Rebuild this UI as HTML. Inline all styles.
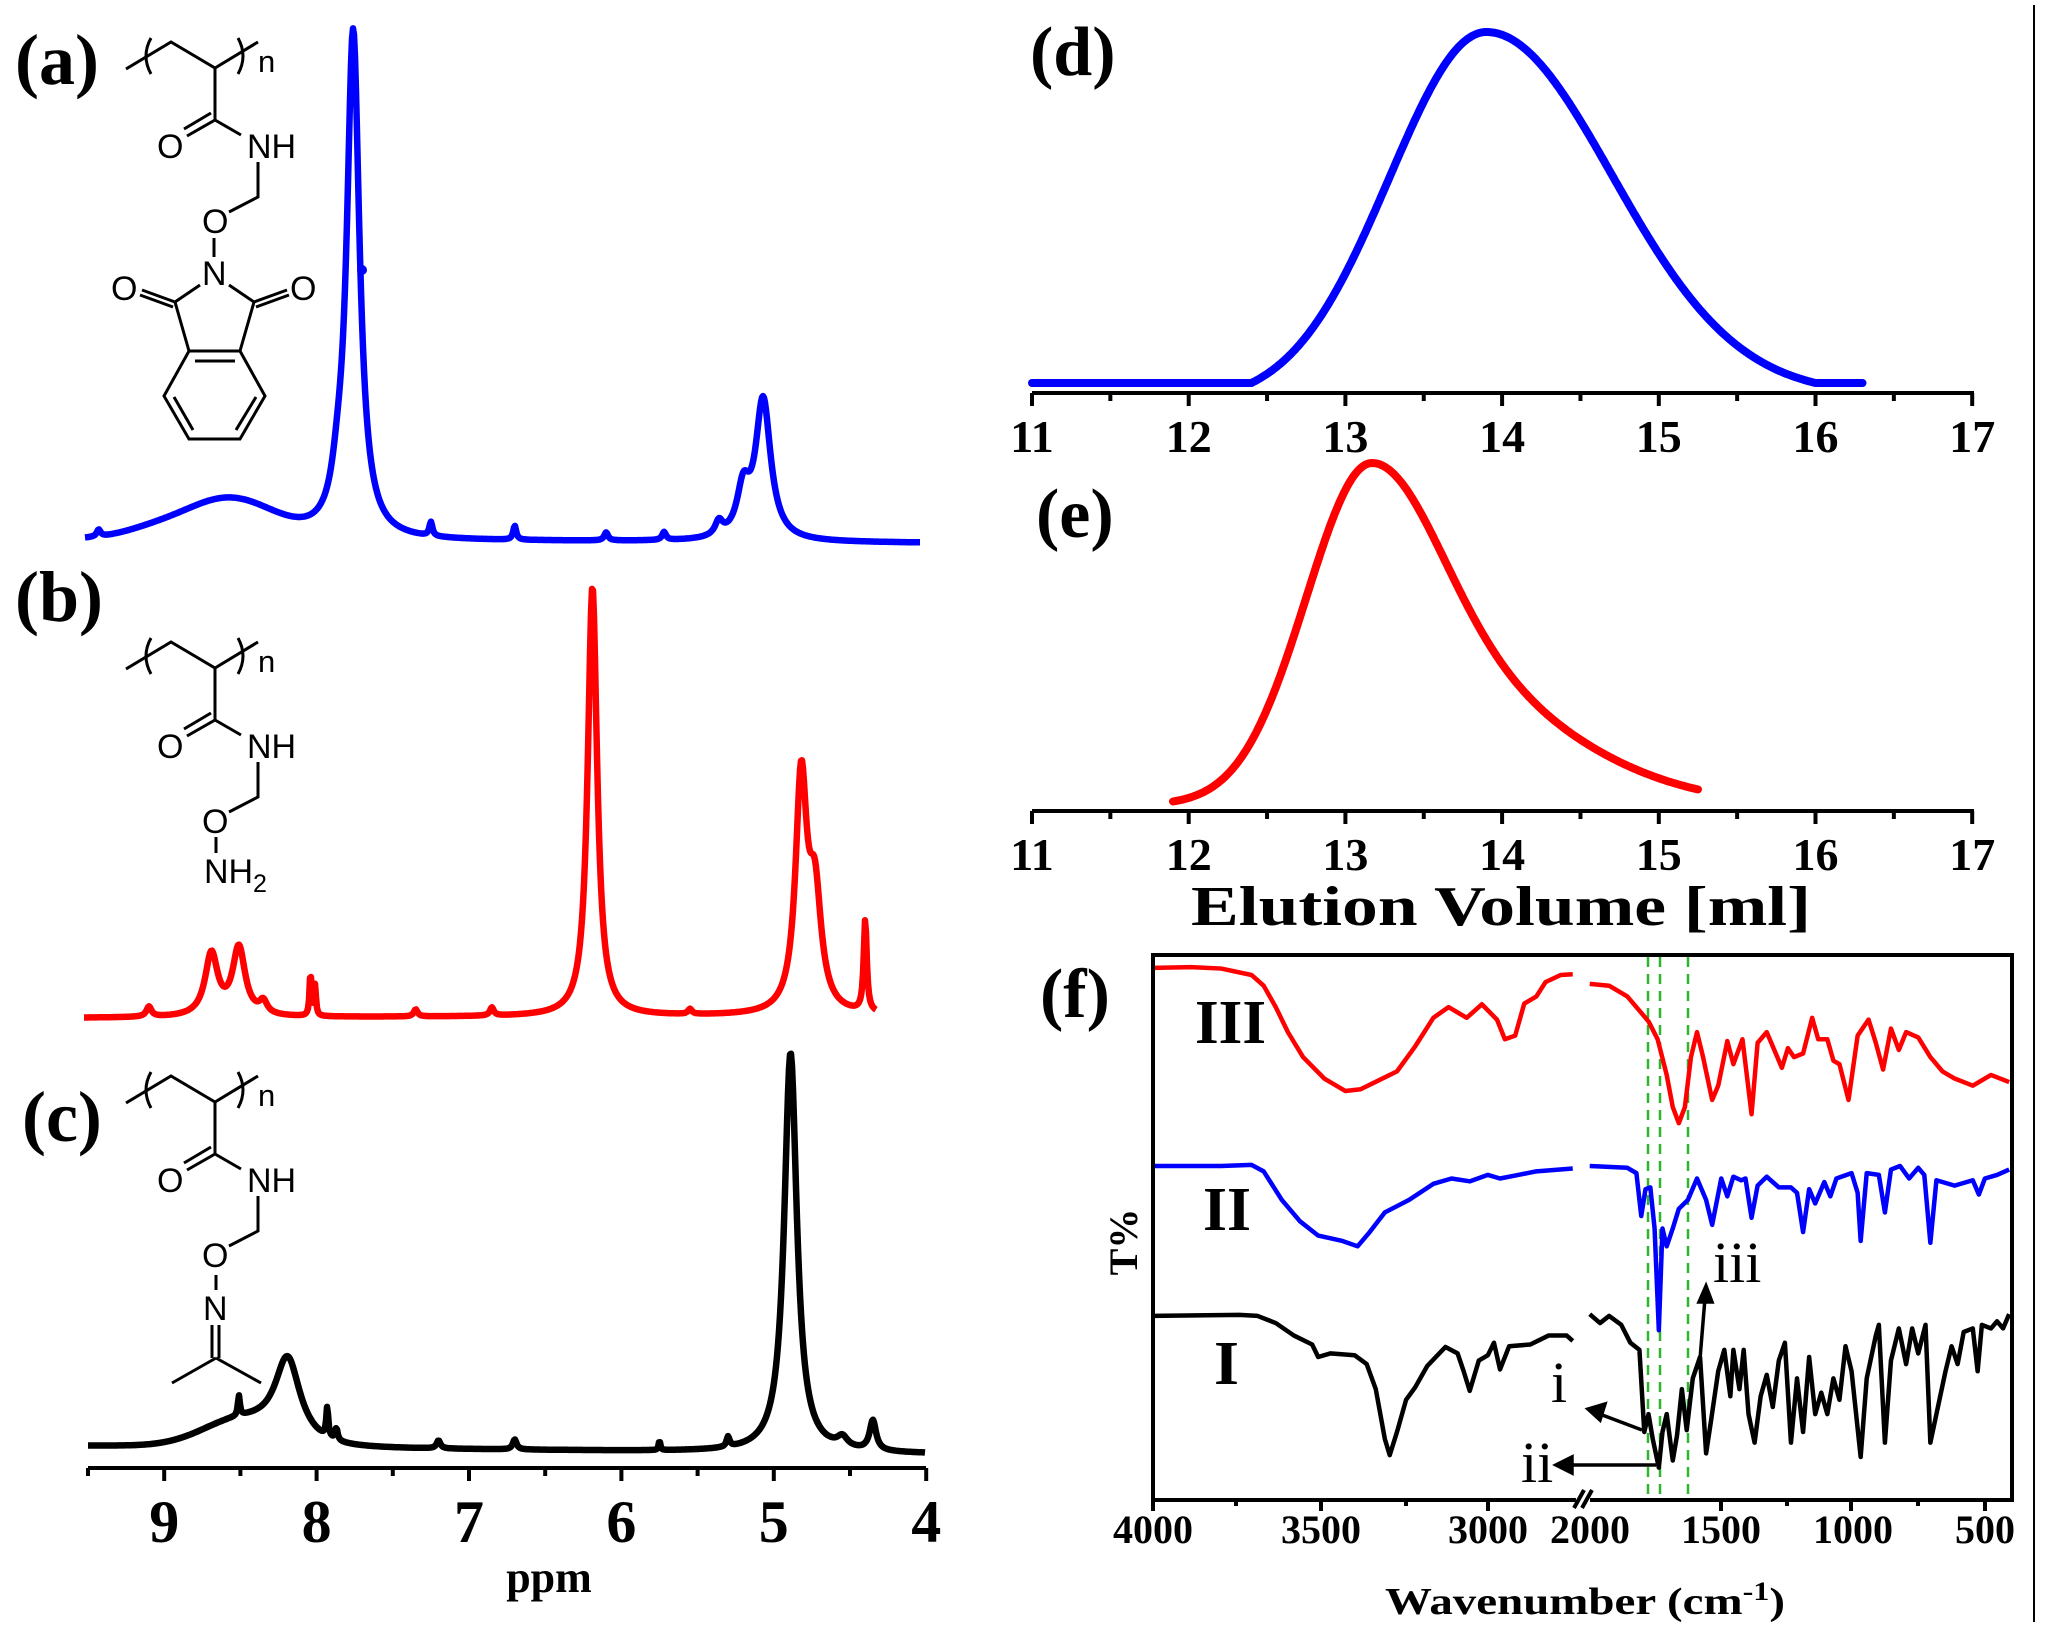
<!DOCTYPE html>
<html><head><meta charset="utf-8"><style>
html,body{margin:0;padding:0;background:#fff;}
svg{display:block;}
.ser{font-family:"Liberation Serif",serif;font-weight:bold;}
.san{font-family:"Liberation Sans",sans-serif;}
</style></head><body>
<svg id="s" width="2051" height="1642" viewBox="0 0 2051 1642" xmlns="http://www.w3.org/2000/svg">
<rect width="2051" height="1642" fill="#fff"/>
<g class="ser" font-size="72" fill="#000">
<text x="15" y="84">(a)</text>
<text x="15" y="621">(b)</text>
<text x="22" y="1141">(c)</text>
<text x="1030" y="75" font-size="70">(d)</text>
<text x="1036" y="537" font-size="70">(e)</text>
<text x="1040" y="1017" font-size="70">(f)</text>
</g>

<defs>
<g id="top" stroke="#000" stroke-width="3" fill="none">
<polyline points="126,69 171,42 215,68 258,42"/>
<path d="M151,38 Q141,56 151,74"/>
<path d="M238,38 Q248,56 238,74"/>
<line x1="215" y1="68" x2="215" y2="120"/>
<line x1="215" y1="120" x2="187" y2="136"/>
<line x1="211" y1="113" x2="184" y2="129"/>
<line x1="215" y1="120" x2="241" y2="135"/>
<polyline points="258,162 258,197 229,212"/>
</g>
<g id="toptext" class="san" font-size="34" fill="#000">
<text x="258" y="72" font-size="31">n</text>
<text x="157" y="158">O</text>
<text x="247" y="158">NH</text>
<text x="202" y="233">O</text>
</g>
</defs>
<use href="#top"/><use href="#toptext"/>
<g stroke="#000" stroke-width="3" fill="none">
<line x1="214" y1="238" x2="214" y2="257"/>
<line x1="200" y1="285" x2="175" y2="302"/>
<line x1="229" y1="285" x2="254" y2="302"/>
<line x1="175" y1="302" x2="142" y2="290"/><line x1="173" y1="307" x2="140" y2="295"/>
<line x1="254" y1="302" x2="287" y2="290"/><line x1="256" y1="307" x2="289" y2="295"/>
<line x1="175" y1="302" x2="189" y2="351"/><line x1="254" y1="302" x2="240" y2="351"/>
<polyline points="240,351 189,351 164,396 189,439 240,439 265,396 240,351"/>
<line x1="195" y1="361" x2="235" y2="361"/>
<line x1="174" y1="397" x2="193" y2="430"/><line x1="256" y1="397" x2="236" y2="430"/>
</g>
<g class="san" font-size="34"><text x="202" y="285">N</text><text x="111" y="300">O</text><text x="290" y="300">O</text></g>

<g transform="translate(0,600)"><use href="#top"/><use href="#toptext"/>
<line x1="216" y1="237" x2="216" y2="253" stroke="#000" stroke-width="3"/>
<text class="san" font-size="34" x="204" y="283">NH</text><text class="san" font-size="25" x="253" y="292">2</text></g>

<g transform="translate(0,1034)"><use href="#top"/><use href="#toptext"/>
<g stroke="#000" stroke-width="3">
<line x1="216" y1="241" x2="216" y2="256"/>
<line x1="212" y1="291" x2="212" y2="324"/><line x1="219" y1="291" x2="219" y2="324"/>
<line x1="216" y1="324" x2="172" y2="349"/><line x1="216" y1="324" x2="261" y2="349"/>
</g>
<text class="san" font-size="34" x="203" y="286">N</text></g>

<path id="nb" fill="none" stroke="#0000ff" stroke-width="6.5" stroke-linejoin="round"/>
<path id="nr" fill="none" stroke="#ff0000" stroke-width="6.5" stroke-linejoin="round"/>
<path id="nk" fill="none" stroke="#000" stroke-width="6.5" stroke-linejoin="round"/>
<circle cx="362" cy="270" r="5" fill="#0000ff"/>

<g id="nax" stroke="#000" stroke-width="4"></g>
<g class="ser" font-size="60" text-anchor="middle" id="nlab"></g>
<text class="ser" x="549" y="1592" font-size="44" text-anchor="middle">ppm</text>

<path id="gd" fill="none" stroke="#0000ff" stroke-width="8" stroke-linecap="round"/>
<path id="ge" fill="none" stroke="#ff0000" stroke-width="8" stroke-linecap="round"/>
<g id="gax" stroke="#000" stroke-width="4"></g>
<g class="ser" font-size="46" text-anchor="middle" id="glab"></g>
<text class="ser" x="1501" y="925" font-size="56" text-anchor="middle" textLength="620" lengthAdjust="spacingAndGlyphs">Elution Volume [ml]</text>

<line x1="2034" y1="5" x2="2034" y2="1622" stroke="#000" stroke-width="2"/>

<g stroke="#2db52d" stroke-width="2.5" stroke-dasharray="10,7">
<line x1="1648" y1="957" x2="1648" y2="1498"/><line x1="1660" y1="957" x2="1660" y2="1498"/><line x1="1688" y1="957" x2="1688" y2="1498"/>
</g>
<g transform="translate(1100,950) scale(0.6061,0.357)" fill="none" stroke-width="4.5" stroke-linejoin="round">
<polyline vector-effect="non-scaling-stroke" stroke="#ff0000" points="88,50 150,48 200,52 250,70 270,100 290,160 310,230 335,300 370,360 405,395 430,390 460,365 490,340 520,270 550,190 575,160 605,190 630,152 655,195 668,250 685,240 700,150 720,130 735,90 760,70 780,68"/>
<polyline vector-effect="non-scaling-stroke" stroke="#ff0000" points="808,95 840,100 870,130 890,170 905,200 920,250 935,350 945,440 955,485 965,440 975,300 985,230 995,300 1010,420 1020,380 1035,255 1045,320 1060,250 1075,460 1085,260 1100,230 1110,270 1125,330 1135,275 1145,300 1160,290 1175,190 1185,250 1200,250 1210,310 1220,320 1235,420 1250,240 1268,195 1280,260 1292,335 1305,220 1318,280 1330,230 1350,245 1370,300 1390,340 1410,360 1440,380 1470,350 1500,370"/>
<polyline vector-effect="non-scaling-stroke" stroke="#0000ff" points="88,605 200,605 250,602 270,620 300,700 330,760 360,800 400,815 425,830 445,790 470,735 510,700 550,655 580,640 610,648 640,630 660,640 690,630 720,620 780,612"/>
<polyline vector-effect="non-scaling-stroke" stroke="#0000ff" points="808,605 870,610 885,625 893,745 900,670 908,665 915,780 922,1065 928,780 935,830 945,780 955,725 970,700 985,640 1000,700 1010,770 1025,640 1035,690 1045,635 1058,645 1065,640 1075,750 1085,660 1100,635 1120,665 1140,665 1150,680 1160,790 1170,670 1180,710 1195,650 1205,690 1215,640 1240,625 1250,680 1255,815 1265,625 1285,630 1295,735 1305,615 1320,605 1335,640 1350,610 1360,630 1370,820 1380,645 1410,660 1440,645 1450,685 1460,640 1480,630 1500,615"/>
<polyline vector-effect="non-scaling-stroke" stroke="#000" points="88,1025 230,1022 260,1025 290,1045 320,1080 350,1105 360,1140 380,1130 420,1135 440,1160 455,1230 470,1370 478,1415 490,1350 505,1260 520,1225 540,1165 570,1112 590,1130 600,1180 610,1235 625,1150 640,1135 650,1100 660,1175 675,1110 710,1105 740,1080 770,1080 780,1095"/>
<polyline vector-effect="non-scaling-stroke" stroke="#000" points="808,1020 825,1045 840,1025 860,1050 875,1100 890,1120 898,1350 905,1300 912,1370 922,1450 928,1350 935,1300 945,1430 952,1360 960,1230 968,1345 978,1200 990,1140 1000,1410 1008,1320 1020,1180 1030,1120 1040,1250 1045,1120 1055,1230 1062,1120 1070,1300 1080,1380 1090,1250 1100,1190 1110,1280 1120,1150 1130,1100 1140,1380 1150,1200 1160,1350 1170,1140 1180,1300 1190,1240 1200,1300 1210,1200 1220,1260 1230,1110 1240,1180 1255,1420 1265,1200 1280,1080 1285,1050 1295,1380 1305,1150 1318,1060 1330,1160 1340,1060 1350,1130 1362,1050 1370,1380 1385,1260 1395,1180 1405,1110 1415,1160 1425,1070 1440,1060 1448,1180 1455,1050 1470,1060 1480,1040 1490,1060 1500,1020"/>
</g>
<g stroke="#000" stroke-width="4" fill="none">
<polyline points="1576,1500 1153,1500 1153,955 2012,955 2012,1500 1590,1500"/>
<line x1="1574" y1="1508" x2="1584" y2="1490"/><line x1="1582" y1="1508" x2="1592" y2="1490"/>
<line x1="1236" y1="1500" x2="1236" y2="1506"/><line x1="1321" y1="1500" x2="1321" y2="1511"/><line x1="1406" y1="1500" x2="1406" y2="1506"/><line x1="1488" y1="1500" x2="1488" y2="1511"/>
<line x1="1153" y1="1500" x2="1153" y2="1511"/>
<line x1="1721" y1="1500" x2="1721" y2="1511"/><line x1="1787" y1="1500" x2="1787" y2="1506"/><line x1="1851" y1="1500" x2="1851" y2="1511"/><line x1="1918" y1="1500" x2="1918" y2="1506"/><line x1="1985" y1="1500" x2="1985" y2="1511"/>
</g>
<g class="ser" font-size="40" text-anchor="middle">
<text x="1153" y="1543">4000</text><text x="1321" y="1543">3500</text><text x="1488" y="1543">3000</text><text x="1590" y="1543">2000</text><text x="1721" y="1543">1500</text><text x="1853" y="1543">1000</text><text x="1985" y="1543">500</text>
</g>
<text class="ser" x="1585" y="1614" font-size="38" text-anchor="middle" textLength="400" lengthAdjust="spacingAndGlyphs">Wavenumber (cm<tspan font-size="26" dy="-14">-1</tspan><tspan dy="14">)</tspan></text>
<text class="ser" transform="translate(1137,1242) rotate(-90)" font-size="40" text-anchor="middle">T%</text>
<g class="ser" font-size="62">
<text x="1195" y="1043" textLength="71" lengthAdjust="spacingAndGlyphs">III</text>
<text x="1203" y="1230" textLength="48" lengthAdjust="spacingAndGlyphs">II</text>
<text x="1214" y="1384" textLength="25" lengthAdjust="spacingAndGlyphs">I</text>
</g>
<g font-family="Liberation Serif,serif" font-size="58">
<text x="1551" y="1402">i</text><text x="1521" y="1482">ii</text><text x="1713" y="1282">iii</text>
</g>
<g stroke="#000" stroke-width="3.5" fill="#000">
<line x1="1642" y1="1430" x2="1597" y2="1413"/><polygon points="1588,1409 1605,1404 1600,1420"/>
<line x1="1656" y1="1465" x2="1569" y2="1465"/><polygon points="1556,1465 1572,1457 1572,1473"/>
<line x1="1700" y1="1359" x2="1705" y2="1298"/><polygon points="1706,1286 1712,1302 1699,1302"/>
</g>
</svg>
<script>
(function(){
var NS="http://www.w3.org/2000/svg";
function L(x,c,w){return 1/(1+((x-c)/w)*((x-c)/w));}
function G(x,c,s){return Math.exp(-(x-c)*(x-c)/(2*s*s));}
function X(p){return 88+(9.5-p)*152.4;}
function nmr(id,x0,x1,base0,base1,peaks){
 var d="",n=0;
 for(var x=x0;x<=x1;x+=1){
  var p=9.5-(x-88)/152.4;var y=base0+(base1-base0)*(x-x0)/(x1-x0);
  for(var i=0;i<peaks.length;i++){var k=peaks[i];
   y-= k[3]=="g"? k[1]*G(p,k[0],k[2]) : k[1]*L(p,k[0],k[2]);}
  d+=(n++?"L":"M")+x+","+y.toFixed(1);
 }
 document.getElementById(id).setAttribute("d",d);
}
nmr("nb",85,920,539,543,[[7.76,505,0.05],[7.86,30,0.05],[8.58,40,0.3,"g"],[5.07,140,0.06],[5.2,45,0.05],[5.36,14,0.03],[9.43,7,0.015],[7.25,14,0.012],[6.7,14,0.012],[6.1,8,0.015],[5.72,8,0.015],[9.1,6,0.2,"g"]]);
nmr("nr",84,876,1018,1016,[[6.19,430,0.037],[4.82,230,0.045],[4.73,110,0.05],[4.4,92,0.012],[8.69,62,0.05],[8.51,68,0.05],[8.35,12,0.03],[8.04,45,0.007],[8.01,30,0.007],[9.1,10,0.02],[7.35,7,0.015],[6.85,8,0.015],[5.55,5,0.015]]);
nmr("nk",88,925,1446,1454,[[4.89,400,0.05],[8.19,80,0.1],[8.5,25,0.25,"g"],[8.51,20,0.008],[7.93,30,0.008],[7.87,12,0.01],[4.35,30,0.025],[4.55,10,0.04],[7.2,8,0.015],[6.7,10,0.015],[5.75,10,0.006],[5.3,10,0.012]]);
var ax=document.getElementById("nax"),nl=document.getElementById("nlab");
function ln(g,a,b,c,d){var e=document.createElementNS(NS,"line");e.setAttribute("x1",a);e.setAttribute("y1",b);e.setAttribute("x2",c);e.setAttribute("y2",d);g.appendChild(e);}
function tx(g,x,y,t){var e=document.createElementNS(NS,"text");e.setAttribute("x",x);e.setAttribute("y",y);e.textContent=t;g.appendChild(e);}
ln(ax,88,1468,926,1468);
for(var p=9.5;p>=3.99;p-=0.5){var x=X(p);var maj=Math.abs(p-Math.round(p))<0.01;ln(ax,x,1468,x,maj?1481:1476);if(maj)tx(nl,x,1542,String(Math.round(p)));}
function gx(v){return 1032+(v-11)*156.7;}
function gpc(id,v0,v1,base,top,c,fn){var d="",n=0;for(var v=v0;v<=v1+1e-6;v+=0.01){var y=base-(base-top)*fn(v-c);d+=(n++?"L":"M")+gx(v).toFixed(1)+","+y.toFixed(1);}document.getElementById(id).setAttribute("d",d);}
gpc("gd",11,16.3,383,32,13.9,function(d){
  var s=d<0?0.62:0.8, lim=d<0?1.5:2.1;
  if(Math.abs(d)>=lim) return 0;
  var g=Math.exp(-d*d/(2*s*s)), g0=Math.exp(-lim*lim/(2*s*s));
  var t=Math.abs(d)/lim; var f=g-g0*(1-Math.pow(1-t,2))-0*t;
  return Math.max(0,(g-g0)/(1-g0));});
gpc("ge",11.9,15.25,805,463,13.17,function(d){if(d<0)return Math.exp(-d*d/(2*0.42*0.42));return 0.5*Math.exp(-d*d/(2*0.42*0.42))+0.5*Math.exp(-d*d/(2*0.95*0.95));});
var ga=document.getElementById("gax"),gl=document.getElementById("glab");
[[393,452],[811,870]].forEach(function(a){ln(ga,1032,a[0],1974,a[0]);for(var v=11;v<=17.01;v+=0.5){var x=gx(v);var maj=Math.abs(v-Math.round(v))<0.01;ln(ga,x,a[0],x,a[0]+(maj?13:8));if(maj)tx(gl,x,a[1],String(Math.round(v)));}});
})();
</script>
</body></html>
